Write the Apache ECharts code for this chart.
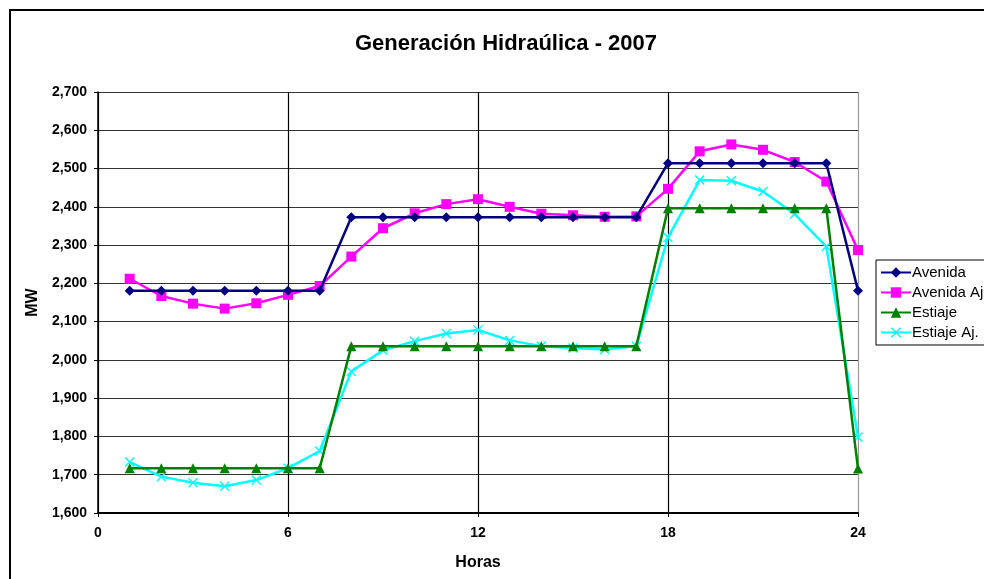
<!DOCTYPE html>
<html>
<head>
<meta charset="utf-8">
<script src="https://cdn.jsdelivr.net/npm/echarts@6/dist/echarts.min.js"></script>
<style>
  html, body { margin: 0; padding: 0; background: #fff; }
  #main { width: 984px; height: 579px; }
</style>
</head>
<body>
<div id="main"></div>
<script>
// horas del dia
var horas = [1, 2, 3, 4, 5, 6, 7, 8, 9, 10, 11, 12, 13, 14, 15, 16, 17, 18, 19, 20, 21, 22, 23, 24];

var avenida = [2181, 2181, 2181, 2181, 2181, 2181, 2181, 2373, 2373, 2373, 2373, 2373,
  2373, 2373, 2373, 2373, 2373, 2514, 2514, 2514, 2514, 2514, 2514, 2181];
var avenidaAj = [2212, 2167, 2147, 2134, 2148, 2170, 2193, 2270, 2344, 2383, 2407, 2420,
  2400, 2382, 2378, 2374, 2375, 2447, 2545, 2563, 2549, 2517, 2466, 2287];
var estiaje = [1717, 1717, 1717, 1717, 1717, 1717, 1717, 2036, 2036, 2036, 2036, 2036,
  2036, 2036, 2036, 2036, 2036, 2396, 2396, 2396, 2396, 2396, 2396, 1716];
var estiajeAj = [1733, 1695, 1679, 1670, 1686, 1717, 1762, 1970, 2025, 2049, 2069, 2078,
  2051, 2036, 2031, 2027, 2036, 2320, 2470, 2468, 2440, 2381, 2296, 1798];

var nombres = ['Avenida', 'Avenida Aj.', 'Estiaje', 'Estiaje Aj.'];
var colores = ['#000080', '#FF00FF', '#008000', '#00FFFF'];
var simbolos = ['diamond', 'rect', 'triangle',
  'path://M0,1L1,0L5,4L9,0L10,1L6,5L10,9L9,10L5,6L1,10L0,9L4,5Z'];
var tamanos = [10, 10, 10, 10];

function pares(valores) {
  return horas.map(function (h, i) { return [h, valores[i]]; });
}

var datos = [avenida, avenidaAj, estiaje, estiajeAj];

var series = datos.map(function (d, i) {
  return {
    name: nombres[i],
    type: 'line',
    data: pares(d),
    symbol: simbolos[i],
    symbolSize: tamanos[i],
    showAllSymbol: true,
    lineStyle: { color: colores[i], width: 2.5 },
    itemStyle: { color: colores[i] },
    z: 10 - i
  };
});

var fuente = 'Arial, "Liberation Sans", Helvetica, sans-serif';

var option = {
  animation: false,
  backgroundColor: '#fff',
  textStyle: { fontFamily: fuente },
  title: {
    text: 'Generación Hidraúlica - 2007',
    left: 350,
    top: 28,
    textStyle: { fontSize: 22, fontWeight: 'bold', color: '#000', fontFamily: fuente }
  },
  graphic: [{
    type: 'rect',
    shape: { x: 10, y: 10, width: 1000, height: 600 },
    style: { fill: 'none', stroke: '#000', lineWidth: 2 },
    silent: true
  }],
  legend: {
    orient: 'vertical',
    left: 876,
    top: 260,
    data: nombres,
    itemWidth: 30,
    itemHeight: 13,
    itemGap: 5,
    padding: [5, 40, 5, 4],
    borderColor: '#000',
    borderWidth: 1,
    textStyle: { fontSize: 15, color: '#000', fontFamily: fuente, padding: [0, 0, 0, -4] }
  },
  grid: {
    left: 98,
    right: 126,
    top: 92,
    bottom: 66,
    containLabel: false
  },
  xAxis: {
    type: 'value',
    min: 0,
    max: 24,
    interval: 6,
    name: 'Horas',
    nameLocation: 'middle',
    nameGap: 42,
    nameTextStyle: { fontSize: 16, fontWeight: 'bold', color: '#000', fontFamily: fuente },
    axisLine: { show: true, lineStyle: { color: '#000', width: 2 } },
    axisTick: { show: true, length: 4, lineStyle: { color: '#000' } },
    axisLabel: { fontSize: 14, fontWeight: 'bold', color: '#000', margin: 13, fontFamily: fuente },
    splitLine: { show: true, lineStyle: { color: ['#000', '#000', '#000', '#000', '#999'], width: 1.2 } }
  },
  yAxis: {
    type: 'value',
    min: 1600,
    max: 2700,
    interval: 100,
    name: 'MW',
    nameLocation: 'middle',
    nameGap: 54,
    nameTextStyle: { fontSize: 16, fontWeight: 'bold', color: '#000', fontFamily: fuente },
    axisLine: { show: true, lineStyle: { color: '#000', width: 1.5 } },
    axisTick: { show: true, length: 4, lineStyle: { color: '#000' } },
    axisLabel: {
      fontSize: 14, fontWeight: 'bold', color: '#000', margin: 11, fontFamily: fuente,
      formatter: function (v) { return v.toLocaleString('en-US'); }
    },
    splitLine: { show: true, lineStyle: { color: '#333', width: 1.2 } }
  },
  series: series
};

var chart = echarts.init(document.getElementById('main'));
chart.setOption(option);
</script>
</body>
</html>
